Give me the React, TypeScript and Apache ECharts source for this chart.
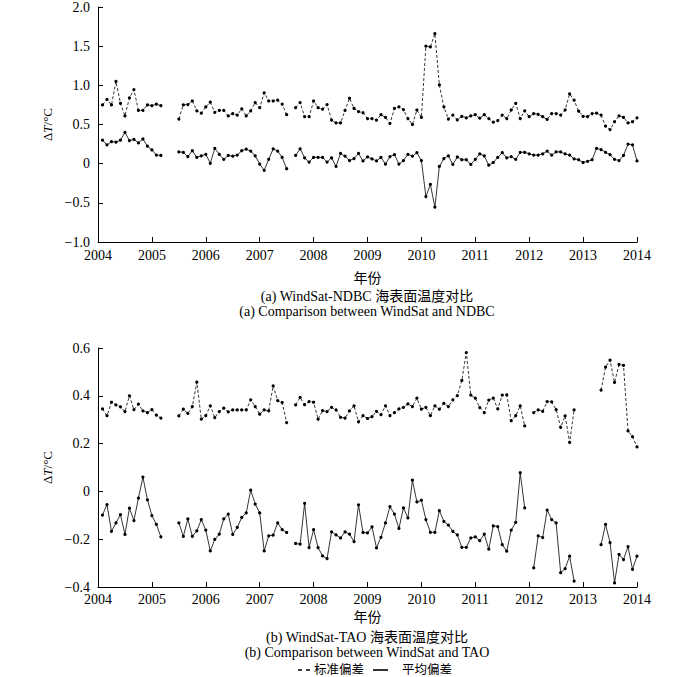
import React, { useEffect, useRef } from 'react';
import * as echarts from 'echarts';

// Monthly values (Jan..Dec per row), 2004..2013; month i (1-based) plotted at 2004 + i/12
const ndbcStd: (number | null)[][] = [
  [0.75, 0.82, 0.75, 1.05, 0.77, 0.61, 0.84, 0.945, 0.68, 0.68, 0.75, 0.74],
  [0.76, 0.74, null, null, null, 0.57, 0.75, 0.755, 0.8, 0.675, 0.645, 0.725],
  [0.785, 0.655, 0.68, 0.68, 0.61, 0.64, 0.62, 0.7, 0.61, 0.675, 0.78, 0.715],
  [0.905, 0.8, 0.8, 0.81, 0.76, 0.625, null, 0.715, 0.78, 0.6, 0.6, 0.8],
  [0.715, 0.695, 0.755, 0.555, 0.52, 0.52, 0.68, 0.835, 0.705, 0.665, 0.65, 0.575],
  [0.575, 0.555, 0.625, 0.59, 0.515, 0.705, 0.725, 0.69, 0.575, 0.5, 0.685, 0.59],
  [1.5, 1.49, 1.66, 1.005, 0.725, 0.57, 0.62, 0.56, 0.605, 0.585, 0.61, 0.625],
  [0.58, 0.625, 0.575, 0.53, 0.55, 0.62, 0.575, 0.685, 0.77, 0.575, 0.675, 0.6],
  [0.64, 0.63, 0.6, 0.565, 0.64, 0.64, 0.62, 0.685, 0.89, 0.81, 0.67, 0.605],
  [0.6, 0.64, 0.645, 0.62, 0.48, 0.435, 0.535, 0.61, 0.59, 0.52, 0.535, 0.585],
];
const ndbcMean: (number | null)[][] = [
  [0.3, 0.24, 0.28, 0.275, 0.3, 0.4, 0.295, 0.31, 0.265, 0.315, 0.225, 0.175],
  [0.11, 0.105, null, null, null, 0.15, 0.145, 0.09, 0.165, 0.08, 0.1, 0.12],
  [0.005, 0.195, 0.12, 0.055, 0.105, 0.095, 0.11, 0.165, 0.185, 0.16, 0.1, -0.005],
  [-0.085, 0.055, 0.19, 0.16, 0.08, -0.065, null, 0.105, 0.19, 0.075, 0.02, 0.08],
  [0.08, 0.08, 0.02, 0.075, -0.035, 0.13, 0.095, 0.04, 0.065, 0.13, 0.035, 0.085],
  [0.06, 0.035, 0.08, -0.005, 0.09, 0.115, -0.005, 0.04, 0.12, 0.095, 0.14, 0.04],
  [-0.42, -0.265, -0.555, -0.035, 0.065, 0.1, -0.01, 0.085, 0.05, 0.05, -0.01, 0.055],
  [0.125, 0.1, -0.02, 0.015, 0.08, 0.14, 0.075, 0.09, 0.055, 0.145, 0.145, 0.125],
  [0.11, 0.11, 0.125, 0.16, 0.11, 0.15, 0.15, 0.125, 0.11, 0.06, 0.05, 0.015],
  [0.03, 0.05, 0.195, 0.18, 0.145, 0.115, 0.055, 0.04, 0.105, 0.25, 0.24, 0.035],
];
const taoStd: (number | null)[][] = [
  [0.345, 0.317, 0.373, 0.362, 0.354, 0.334, 0.4, 0.342, 0.365, 0.337, 0.33, 0.342],
  [0.319, 0.307, null, null, null, 0.316, 0.344, 0.326, 0.355, 0.457, 0.302, 0.317],
  [0.358, 0.309, 0.334, 0.348, 0.333, 0.341, 0.341, 0.341, 0.341, 0.383, 0.355, 0.323],
  [0.341, 0.337, 0.442, 0.38, 0.372, 0.288, null, 0.362, 0.393, 0.363, 0.376, 0.373],
  [0.302, 0.338, 0.334, 0.352, 0.341, 0.31, 0.307, 0.337, 0.358, 0.291, 0.317, 0.305],
  [0.313, 0.335, 0.321, 0.358, 0.317, 0.33, 0.345, 0.352, 0.366, 0.355, 0.39, 0.344],
  [0.352, 0.317, 0.358, 0.344, 0.368, 0.355, 0.383, 0.401, 0.464, 0.581, 0.403, 0.39],
  [0.351, 0.33, 0.382, 0.39, 0.345, 0.403, 0.404, 0.296, 0.317, 0.358, 0.274, null],
  [0.33, 0.341, 0.335, 0.376, 0.375, 0.342, 0.268, 0.316, 0.205, 0.341, null, null],
  [null, null, null, 0.424, 0.52, 0.549, 0.456, 0.531, 0.527, 0.253, 0.229, 0.186],
];
const taoMean: (number | null)[][] = [
  [-0.099, -0.055, -0.167, -0.132, -0.097, -0.18, -0.07, -0.122, -0.028, 0.06, -0.035, -0.101],
  [-0.138, -0.19, null, null, null, -0.132, -0.188, -0.115, -0.188, -0.165, -0.118, -0.162],
  [-0.249, -0.201, -0.179, -0.115, -0.095, -0.18, -0.151, -0.109, -0.09, 0.005, -0.053, -0.09],
  [-0.249, -0.186, -0.183, -0.132, -0.16, -0.172, null, -0.218, -0.221, -0.05, -0.235, -0.16],
  [-0.235, -0.27, -0.281, -0.169, -0.182, -0.195, -0.169, -0.179, -0.21, -0.056, -0.172, -0.174],
  [-0.148, -0.236, -0.192, -0.132, -0.064, -0.095, -0.155, -0.069, -0.111, 0.047, -0.044, -0.037],
  [-0.118, -0.171, -0.171, -0.08, -0.125, -0.141, -0.167, -0.182, -0.234, -0.234, -0.195, -0.19],
  [-0.206, -0.179, -0.242, -0.144, -0.147, -0.223, -0.25, -0.162, -0.13, 0.078, -0.069, null],
  [-0.32, -0.186, -0.193, -0.078, -0.118, -0.132, -0.34, -0.323, -0.271, -0.375, null, null],
  [null, null, null, -0.223, -0.138, -0.214, -0.383, -0.264, -0.285, -0.231, -0.326, -0.271],
];

const seriesNames = ['标准偏差', '平均偏差'];
const xTitle = '年份';
const yTitle = '{d|Δ}{t|T}{d|/°C}';
const captionA = ['(a) WindSat-NDBC 海表面温度对比', '(a) Comparison between WindSat and NDBC'];
const captionB = ['(b) WindSat-TAO 海表面温度对比', '(b) Comparison between WindSat and TAO'];

const FONT = "'Liberation Serif', 'Times New Roman', 'Noto Sans CJK SC', serif";

const toData = (rows: (number | null)[][]) =>
  rows.flat().map((v, i) => [2004 + (i + 1) / 12, v === null ? '-' : v]);

const fmtY = (v: number) => {
  if (Math.abs(v) < 1e-9) return '0';
  return (v < 0 ? '\u2212' : '') + Math.abs(v).toFixed(1);
};

export default function App() {
  const ref = useRef<HTMLDivElement>(null);
  useEffect(() => {
    if (!ref.current) return;
    const chart = echarts.init(ref.current, undefined, { renderer: 'svg' });
    const axisCommon = {
      axisLine: { show: true, onZero: false, lineStyle: { color: '#000', width: 1 } },
      axisTick: { show: true, inside: true, length: 5, lineStyle: { color: '#000' } },
      splitLine: { show: false },
      axisLabel: { color: '#000', fontFamily: FONT, fontSize: 14 },
    };
    const xAxis = (gi: number, gap: number, margin: number) => ({
      ...axisCommon,
      type: 'value',
      gridIndex: gi,
      position: 'bottom',
      min: 2004,
      max: 2014,
      interval: 1,
      name: xTitle,
      nameLocation: 'middle',
      nameGap: gap,
      nameTextStyle: { color: '#000', fontFamily: FONT, fontSize: 14 },
      axisLabel: { ...axisCommon.axisLabel, margin, formatter: (v: number) => String(v) },
    });
    const yAxis = (gi: number, min: number, max: number, interval: number) => ({
      ...axisCommon,
      type: 'value',
      gridIndex: gi,
      position: 'left',
      min,
      max,
      interval,
      name: yTitle,
      nameLocation: 'middle',
      nameGap: 34,
      nameTextStyle: {
        color: '#000',
        rich: {
          d: { fontFamily: FONT, fontSize: 13, color: '#000' },
          t: { fontFamily: FONT, fontSize: 13, fontStyle: 'italic', color: '#000' },
        },
      },
      axisLabel: { ...axisCommon.axisLabel, margin: 8, formatter: fmtY },
    });
    const mk = (name: string, data: any[], gi: number, dashed: boolean) => ({
      name,
      type: 'line',
      xAxisIndex: gi,
      yAxisIndex: gi,
      data,
      connectNulls: false,
      symbol: 'circle',
      symbolSize: 3.2,
      itemStyle: { color: '#000' },
      lineStyle: { color: '#000', width: 0.8, type: dashed ? [3, 2] : 'solid' },
    });
    const cx = 367;
    const txt = (text: string, x: number, y: number, align = 'center', size = 14) => ({
      type: 'text',
      style: {
        text,
        x,
        y,
        textAlign: align,
        textVerticalAlign: 'middle',
        fontFamily: FONT,
        fontSize: size,
        fill: '#000',
      },
    });
    chart.setOption({
      animation: false,
      grid: [
        { left: 98, top: 6, width: 539, height: 236 },
        { left: 98, top: 348, width: 539, height: 239 },
      ],
      xAxis: [xAxis(0, 29, 6), xAxis(1, 23, 5)],
      yAxis: [yAxis(0, -1, 2, 0.5), yAxis(1, -0.4, 0.6, 0.2)],
      series: [
        mk(seriesNames[0], toData(ndbcStd), 0, true),
        mk(seriesNames[1], toData(ndbcMean), 0, false),
        mk(seriesNames[0], toData(taoStd), 1, true),
        mk(seriesNames[1], toData(taoMean), 1, false),
      ],
      graphic: [
        txt(captionA[0], cx, 296),
        txt(captionA[1], cx, 311),
        txt(captionB[0], cx, 637),
        txt(captionB[1], cx, 652),
        {
          type: 'line',
          shape: { x1: 298, y1: 670, x2: 312, y2: 670 },
          style: { stroke: '#000', lineWidth: 1.3, lineDash: [4, 4] },
        },
        txt(seriesNames[0], 314, 670, 'left', 12.5),
        {
          type: 'line',
          shape: { x1: 373, y1: 670, x2: 388, y2: 670 },
          style: { stroke: '#000', lineWidth: 1.6 },
        },
        txt(seriesNames[1], 402, 670, 'left', 12.5),
      ],
    });
    return () => chart.dispose();
  }, []);
  return (
    <div
      ref={ref}
      style={{ position: 'fixed', left: 0, top: 0, width: 700, height: 677, background: '#fff' }}
    />
  );
}
